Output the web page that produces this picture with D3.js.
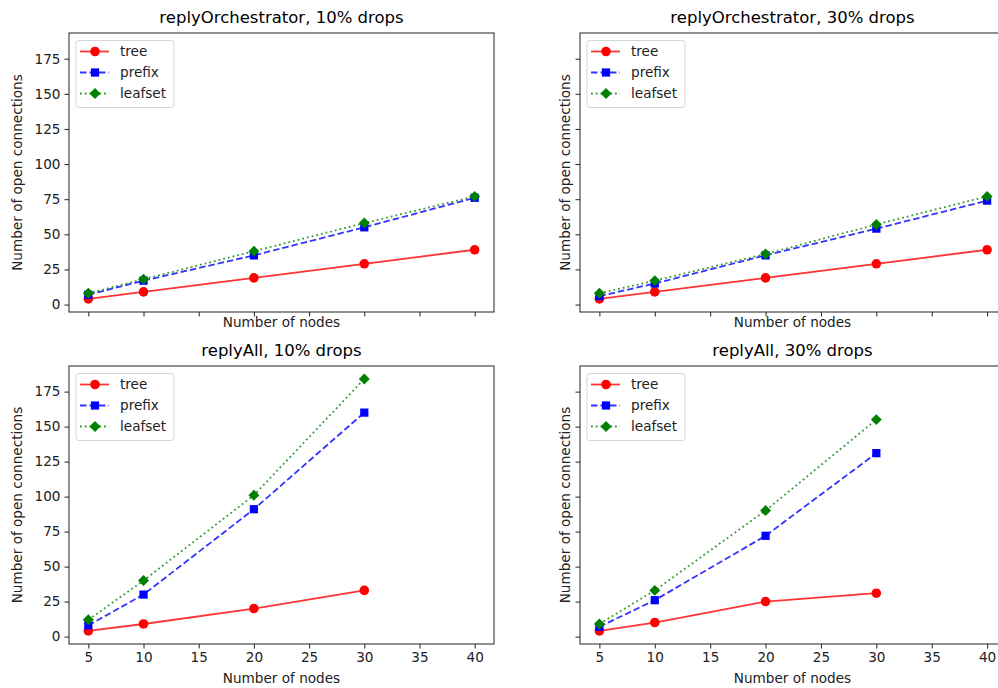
<!DOCTYPE html>
<html>
<head>
<meta charset="utf-8">
<script src="https://cdn.jsdelivr.net/npm/d3@7"></script>
<style>
  html, body { margin: 0; padding: 0; background: #fff; }
  svg { display: block; font-family: "DejaVu Sans", sans-serif; }
</style>
</head>
<body>
<svg id="chart" width="998" height="688"></svg>
<script>
// ---- data ----
const titles = ["replyOrchestrator, 10% drops", "replyOrchestrator, 30% drops", "replyAll, 10% drops", "replyAll, 30% drops"];
const seriesNames = ["tree", "prefix", "leafset"];
const xTop = [5, 10, 20, 30, 40];
const xBottom = [5, 10, 20, 30];
const xTicks = [5, 10, 15, 20, 25, 30, 35, 40];
const yTicks = [0, 25, 50, 75, 100, 125, 150, 175];

const orch10Tree = [4, 9, 19, 29, 39];
const orch10Prefix = [7, 17, 35, 55, 76];
const orch10Leafset = [8, 18, 38, 58, 77];

const orch30Tree = [4, 9, 19, 29, 39];
const orch30Prefix = [6, 15, 35, 54, 74];
const orch30Leafset = [8, 17, 36, 57, 77];

const all10Tree = [4, 9, 20, 33];
const all10Prefix = [8, 30, 91, 160];
const all10Leafset = [12, 40, 101, 184];

const all30Tree = [4, 10, 25, 31];
const all30Prefix = [7, 26, 72, 131];
const all30Leafset = [9, 33, 90, 155];

// ---- layout ----
const panels = [
  { title: titles[0], x: xTop, ys: [orch10Tree, orch10Prefix, orch10Leafset], x0: 69, x1: 494, y0: 33, y1: 312, xLabels: false, yLabels: true },
  { title: titles[1], x: xTop, ys: [orch30Tree, orch30Prefix, orch30Leafset], x0: 580, x1: 1006.5, y0: 33, y1: 312, xLabels: false, yLabels: false },
  { title: titles[2], x: xBottom, ys: [all10Tree, all10Prefix, all10Leafset], x0: 69, x1: 494, y0: 366, y1: 644, xLabels: true, yLabels: true },
  { title: titles[3], x: xBottom, ys: [all30Tree, all30Prefix, all30Leafset], x0: 580, x1: 1006.5, y0: 366, y1: 644, xLabels: true, yLabels: false }
];

const styles = [
  { color: "#ff0000", dash: null, marker: d3.symbolCircle, size: 72, rot: 0 },
  { color: "#0000ff", dash: "6.5,3", marker: d3.symbolSquare, size: 68, rot: 0 },
  { color: "#008000", dash: "1.8,3", marker: d3.symbolSquare, size: 60, rot: 45 }
];

const svg = d3.select("#chart");
const fontTick = 13.6;

panels.forEach((p, pi) => {
  const x = d3.scaleLinear().domain([3.25, 41.75]).range([p.x0, p.x1]);
  const y = d3.scaleLinear().domain([-5.3, 193.3]).range([p.y1, p.y0]);
  const g = svg.append("g");
  const cx = (p.x0 + (pi % 2 === 1 ? 494 - 69 + p.x0 : p.x1)) / 2;

  // title
  g.append("text")
    .attr("x", cx)
    .attr("y", p.y0 - 10)
    .attr("text-anchor", "middle")
    .attr("font-size", 16.5)
    .attr("fill", "#000")
    .text(p.title);

  // clip
  const clipId = "clip" + pi;
  g.append("clipPath").attr("id", clipId)
    .append("rect").attr("x", p.x0).attr("y", p.y0).attr("width", p.x1 - p.x0).attr("height", p.y1 - p.y0);

  // axes
  const xAxis = d3.axisBottom(x).tickValues(xTicks).tickSize(4.5).tickPadding(4)
    .tickFormat(p.xLabels ? d3.format("d") : () => "");
  const yAxis = d3.axisLeft(y).tickValues(yTicks).tickSize(4.5).tickPadding(4)
    .tickFormat(p.yLabels ? d3.format("d") : () => "");

  const gx = g.append("g").attr("transform", `translate(0,${p.y1})`).call(xAxis);
  const gy = g.append("g").attr("transform", `translate(${p.x0},0)`).call(yAxis);
  [gx, gy].forEach(a => {
    a.select(".domain").remove();
    a.selectAll(".tick line").attr("stroke", "#222").attr("stroke-width", 1);
    a.selectAll(".tick text").attr("font-size", fontTick).attr("fill", "#222")
      .attr("font-family", "DejaVu Sans, sans-serif");
  });

  // frame
  g.append("rect").attr("x", p.x0).attr("y", p.y0)
    .attr("width", p.x1 - p.x0).attr("height", p.y1 - p.y0)
    .attr("fill", "none").attr("stroke", "#222").attr("stroke-width", 1);

  // axis labels
  g.append("text")
    .attr("x", cx)
    .attr("y", p.xLabels ? p.y1 + 39 : p.y1 + 15)
    .attr("text-anchor", "middle").attr("font-size", fontTick).attr("fill", "#222")
    .text("Number of nodes");
  const lx = pi % 2 === 0 ? 17 : 565;
  g.append("text")
    .attr("transform", `translate(${lx + 4.5},${(p.y0 + p.y1) / 2}) rotate(-90)`)
    .attr("text-anchor", "middle").attr("font-size", fontTick).attr("fill", "#222")
    .text("Number of open connections");

  // series
  const plot = g.append("g").attr("clip-path", `url(#${clipId})`);
  p.ys.forEach((vals, si) => {
    const st = styles[si];
    const pts = vals.map((v, i) => [p.x[i], v]);
    const line = d3.line().x(d => x(d[0])).y(d => y(d[1]));
    plot.append("path").attr("d", line(pts))
      .attr("fill", "none").attr("stroke", st.color).attr("stroke-width", 1.8)
      .attr("stroke-opacity", 0.8)
      .attr("stroke-dasharray", st.dash);
    plot.selectAll(null).data(pts).enter().append("path")
      .attr("d", d3.symbol().type(st.marker).size(st.size))
      .attr("transform", d => `translate(${x(d[0])},${y(d[1])}) rotate(${st.rot})`)
      .attr("fill", st.color);
  });

  // legend
  const lgX = p.x0 + 7, lgY = p.y0 + 7.5;
  const lg = g.append("g").attr("transform", `translate(${lgX},${lgY})`);
  lg.append("rect").attr("x", 0).attr("y", 0).attr("width", 98).attr("height", 67)
    .attr("rx", 3).attr("fill", "#fff").attr("fill-opacity", 0.8)
    .attr("stroke", "#d6d6d6").attr("stroke-width", 1);
  seriesNames.forEach((name, si) => {
    const st = styles[si];
    const yy = 11 + si * 21;
    lg.append("line").attr("x1", 4).attr("x2", 33).attr("y1", yy).attr("y2", yy)
      .attr("stroke", st.color).attr("stroke-width", 1.8).attr("stroke-opacity", 0.8)
      .attr("stroke-dasharray", st.dash);
    lg.append("path").attr("d", d3.symbol().type(st.marker).size(st.size))
      .attr("transform", `translate(19,${yy}) rotate(${st.rot})`).attr("fill", st.color);
    lg.append("text").attr("x", 44).attr("y", yy).attr("dy", "0.35em")
      .attr("font-size", fontTick).attr("fill", "#222").text(name);
  });
});
</script>
</body>
</html>
